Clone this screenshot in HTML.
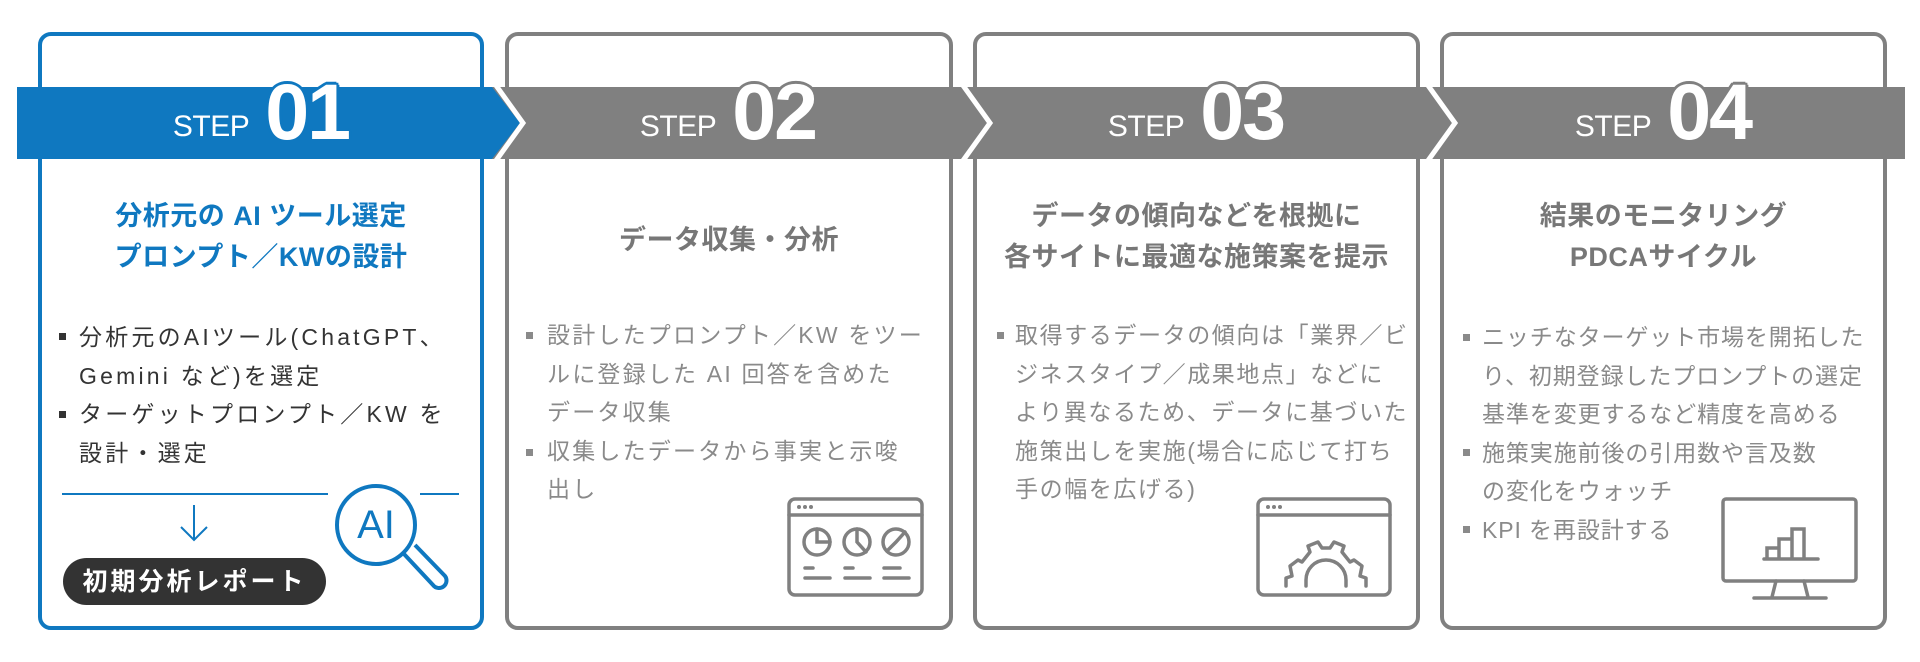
<!DOCTYPE html>
<html><head><meta charset="utf-8"><style>
*{margin:0;padding:0;box-sizing:border-box}
body{width:1920px;height:662px;background:#fff;position:relative;overflow:hidden;font-family:"Liberation Sans","Noto Sans CJK JP",sans-serif}
.t{position:absolute;white-space:nowrap}
.ttl{font-weight:bold;font-size:27px;text-align:center;line-height:41px;letter-spacing:0.5px}
.bl{font-size:23px;line-height:38.5px;letter-spacing:3.2px}
.sq{position:absolute;width:7px;height:7px}
.step{position:absolute;top:72px;color:#fff;white-space:nowrap;text-align:center;width:440px;line-height:79px;height:79px}
.step .s{font-size:30px;vertical-align:baseline;margin-right:16px;letter-spacing:-0.5px;position:relative;top:-3px}
.step .n{font-size:79px;font-weight:bold;vertical-align:baseline;letter-spacing:-2px;text-shadow:3px 0 0 #808080,-3px 0 0 #808080,0 -3px 0 #808080,2px -2px 0 #808080,-2px -2px 0 #808080}
.b .n{text-shadow:3px 0 0 #0f78c0,-3px 0 0 #0f78c0,0 -3px 0 #0f78c0,2px -2px 0 #0f78c0,-2px -2px 0 #0f78c0}
</style></head><body>
<svg width="1920" height="662" style="position:absolute;left:0;top:0">
 <rect x="40" y="34" width="442" height="594" rx="11" fill="none" stroke="#0f78c0" stroke-width="4"/>
 <rect x="507" y="34" width="444" height="594" rx="11" fill="none" stroke="#808080" stroke-width="4"/>
 <rect x="975" y="34" width="443" height="594" rx="11" fill="none" stroke="#808080" stroke-width="4"/>
 <rect x="1442" y="34" width="443" height="594" rx="11" fill="none" stroke="#808080" stroke-width="4"/>
 <rect x="17" y="87" width="1888" height="72" fill="#808080"/>
 <polygon points="17,87 492,87 520,123 492,159 17,159" fill="#0f78c0"/>
 <polyline points="495,84 523,123 495,162" fill="none" stroke="#fff" stroke-width="5"/>
 <polyline points="962,84 990,123 962,162" fill="none" stroke="#fff" stroke-width="5"/>
 <polyline points="1427,84 1455,123 1427,162" fill="none" stroke="#fff" stroke-width="5"/>
 <line x1="62" y1="494" x2="328" y2="494" stroke="#0f78c0" stroke-width="2"/>
 <line x1="420" y1="494" x2="459" y2="494" stroke="#0f78c0" stroke-width="2"/>
 <path d="M194 505 V539 M181 527 L194 540 L207 527" fill="none" stroke="#0f78c0" stroke-width="2"/>
 <rect x="63" y="558" width="263" height="47" rx="23.5" fill="#333"/>
 <circle cx="376" cy="525" r="39" fill="none" stroke="#0f78c0" stroke-width="4"/>
 <path d="M404 554 L433 585 a6 6 0 0 0 12 -9 L415 545" fill="none" stroke="#0f78c0" stroke-width="4" stroke-linejoin="round"/>
 <g fill="none" stroke="#808080" stroke-width="3.5" stroke-linecap="round">
  <rect x="789" y="499" width="133" height="96" rx="6"/>
  <line x1="789" y1="515" x2="922" y2="515"/>
  <circle cx="817" cy="542" r="13"/><path d="M817 529 V542 H830"/>
  <circle cx="857" cy="542" r="13"/><path d="M857 529 V542 L866 552"/>
  <circle cx="896" cy="542" r="13"/><path d="M905 532 L896 542 L887 551"/>
  <path d="M805 568 H813 M805 578 H830 M845 568 H853 M845 578 H870 M884 568 H900 M884 578 H909"/>
 </g>
 <g fill="#808080"><circle cx="799" cy="507" r="2"/><circle cx="805" cy="507" r="2"/><circle cx="811" cy="507" r="2"/>
 <circle cx="1268" cy="507" r="2"/><circle cx="1274" cy="507" r="2"/><circle cx="1280" cy="507" r="2"/></g>
 <g fill="none" stroke="#808080" stroke-width="3.5" stroke-linecap="round" stroke-linejoin="round">
  <rect x="1258" y="499" width="132" height="96" rx="6"/>
  <line x1="1258" y1="515" x2="1390" y2="515"/>
  <path d="M1286 586 V578 L1292 576 L1290 566 L1298 560 L1302 562 L1310 552 L1308 546 L1318 542 L1322 548 L1330 548 L1334 542 L1344 546 L1342 552 L1350 562 L1354 560 L1362 566 L1360 576 L1366 578 V586"/>
  <path d="M1306 586 V580 A20 20 0 0 1 1346 580 V586"/>
 </g>
 <g fill="none" stroke="#808080" stroke-width="3.5" stroke-linecap="round">
  <rect x="1723" y="499" width="133" height="82" rx="3"/>
  <path d="M1776 581 L1772 597 M1804 581 L1808 597 M1754 598 H1826"/>
  <path d="M1764 559 H1818 M1767 559 V548 H1779 V559 M1779 559 V539 H1792 V559 M1792 559 V529 H1804 V559"/>
 </g>
</svg>

<div class="step b" style="left:41px"><span class="s">STEP</span><span class="n">01</span></div>
<div class="step" style="left:508px"><span class="s">STEP</span><span class="n">02</span></div>
<div class="step" style="left:976px"><span class="s">STEP</span><span class="n">03</span></div>
<div class="step" style="left:1443px"><span class="s">STEP</span><span class="n">04</span></div>

<div class="t ttl" style="left:40px;width:442px;top:196px;color:#0f78c0">分析元の AI ツール選定<br>プロンプト／KWの設計</div>
<div class="t ttl" style="left:507px;width:444px;top:220px;color:#777">データ収集・分析</div>
<div class="t ttl" style="left:975px;width:443px;top:196px;color:#777">データの傾向などを根拠に<br>各サイトに最適な施策案を提示</div>
<div class="t ttl" style="left:1442px;width:443px;top:196px;color:#777">結果のモニタリング<br>PDCAサイクル</div>

<div class="sq" style="left:59px;top:333px;background:#333"></div>
<div class="sq" style="left:59px;top:411px;background:#333"></div>
<div class="t bl" style="left:79px;top:318px;color:#333">分析元のAIツール(ChatGPT、<br>Gemini など)を選定<br>ターゲットプロンプト／KW を<br>設計・選定</div>

<div class="sq" style="left:526px;top:332px;background:#8a8a8a"></div>
<div class="sq" style="left:526px;top:449px;background:#8a8a8a"></div>
<div class="t bl" style="left:547px;top:316px;color:#8a8a8a;letter-spacing:2.2px">設計したプロンプト／KW をツー<br>ルに登録した AI 回答を含めた<br>データ収集<br>収集したデータから事実と示唆<br>出し</div>

<div class="sq" style="left:997px;top:332px;background:#8a8a8a"></div>
<div class="t bl" style="left:1015px;top:316px;color:#8a8a8a;letter-spacing:1.6px">取得するデータの傾向は「業界／ビ<br>ジネスタイプ／成果地点」などに<br>より異なるため、データに基づいた<br>施策出しを実施(場合に応じて打ち<br>手の幅を広げる)</div>

<div class="sq" style="left:1463px;top:334px;background:#8a8a8a"></div>
<div class="sq" style="left:1463px;top:449px;background:#8a8a8a"></div>
<div class="sq" style="left:1463px;top:526px;background:#8a8a8a"></div>
<div class="t bl" style="left:1482px;top:318px;color:#8a8a8a;letter-spacing:0.9px">ニッチなターゲット市場を開拓した<br>り、初期登録したプロンプトの選定<br>基準を変更するなど精度を高める<br>施策実施前後の引用数や言及数<br>の変化をウォッチ<br>KPI を再設計する</div>

<div class="t" style="left:63px;width:263px;top:565px;text-align:center;color:#fff;font-weight:bold;font-size:25px;letter-spacing:3px;line-height:34px">初期分析レポート</div>
<div class="t" style="left:336px;width:80px;top:504px;text-align:center;color:#0f78c0;font-size:40px;line-height:42px">AI</div>
</body></html>
